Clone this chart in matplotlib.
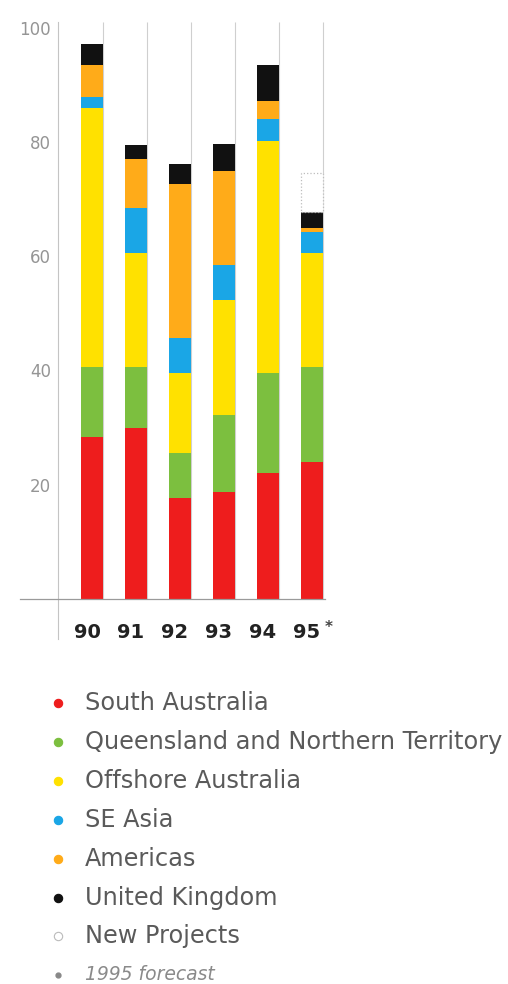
import matplotlib.pyplot as plt
from matplotlib.lines import Line2D
from matplotlib.transforms import ScaledTranslation
import numpy as np

# -----------------------------
# Data
# -----------------------------
years = ["90", "91", "92", "93", "94", "95"]
regions = ["South Australia", "Queensland and Northern Territory",
           "Offshore Australia", "SE Asia", "Americas", "United Kingdom",
           "New Projects"]
south_australia = [28.3, 29.9, 17.7, 18.7, 22.0, 24.0]
queensland_nt = [12.3, 10.7, 7.8, 13.5, 17.5, 16.6]
offshore_australia = [45.4, 19.9, 14.0, 20.1, 40.7, 19.9]
se_asia = [1.8, 7.9, 6.1, 6.1, 3.8, 3.7]
americas = [5.6, 8.7, 27.1, 16.6, 3.2, 0.7]
united_kingdom = [3.8, 2.3, 3.5, 4.7, 6.2, 2.8]
new_projects = [0, 0, 0, 0, 0, 6.8]
y_ticks = [20, 40, 60, 80, 100]

colors = ["#ee1d1d", "#7cbf3f", "#ffe100", "#1aa6e6", "#ffab19", "#111111",
          "#ffffff"]

W, H = 508, 984


def fy(px):
    return 1 - px / H


def fx(px):
    return px / W


def main():
    fig = plt.figure(figsize=(W / 100, H / 100), dpi=100)
    ax = fig.add_axes([fx(58), fy(599), fx(330) - fx(58), fy(22) - fy(599)])

    series = [south_australia, queensland_nt, offshore_australia, se_asia,
              americas, united_kingdom, new_projects]
    x = np.arange(len(years))
    width = 0.48
    bottom = np.zeros(len(years))
    for vals, col in zip(series, colors):
        vals = np.array(vals)
        keep = vals > 0
        is_new = col == "#ffffff"
        ax.bar(x[keep], vals[keep], width, bottom=bottom[keep], color=col,
               zorder=2,
               edgecolor="#bdbdbd" if is_new else "none",
               linewidth=0.9 if is_new else 0,
               linestyle=":" if is_new else "-")
        bottom += vals

    # faint vertical rules at right edge of each bar
    ax.vlines(x + width / 2, 0, 101, color="#cfcfcf", lw=0.8, zorder=1)

    ax.set_xlim(-0.773, 5.41)
    ax.set_ylim(0, 101)
    for s in ax.spines.values():
        s.set_visible(False)

    # y axis line and baseline
    ax.plot([0, 0], [-0.07, 1], transform=ax.transAxes, color="#c4c4c4",
            lw=0.8, clip_on=False)
    ax.axhline(0, xmin=-0.14, xmax=0.98, color="#9a9a9a", lw=0.9,
               clip_on=False, zorder=3)

    ax.set_yticks(y_ticks)
    ax.set_yticklabels([str(t) for t in y_ticks], color="#959595",
                       fontsize=12)
    ax.tick_params(axis="y", length=0, pad=5)

    ax.set_xticks(x)
    ax.set_xticklabels(years, fontsize=14, fontweight="bold",
                       color="#222222")
    ax.tick_params(axis="x", length=0, pad=17)
    shift = ScaledTranslation(-5 / 100, 0, fig.dpi_scale_trans)
    for lab in ax.get_xticklabels():
        lab.set_transform(lab.get_transform() + shift)
    # forecast marker on the last year
    ax.annotate("*", xy=(5, 0), xytext=(9.3, -15), textcoords="offset points",
                fontsize=11, fontweight="bold", color="#444444",
                ha="left", va="top")

    # legend
    rows = [703, 742, 781, 820, 859, 898, 936]
    for lab, col, py in zip(regions, colors, rows):
        is_new = col == "#ffffff"
        fig.add_artist(Line2D([fx(58)], [fy(py)], marker="o", markersize=6,
                              markerfacecolor=col,
                              markeredgecolor="#bbbbbb" if is_new else col,
                              markeredgewidth=0.8,
                              transform=fig.transFigure))
        fig.text(fx(85), fy(py), lab, fontsize=17.3, color="#5a5a5a",
                 va="center", ha="left")
    fig.add_artist(Line2D([fx(58)], [fy(975)], marker="o", markersize=3.5,
                          color="#888888", transform=fig.transFigure))
    fig.text(fx(85), fy(975), "1995 forecast", fontsize=13.5, color="#8a8a8a",
             va="center", ha="left", style="italic")

    fig.savefig("out.png", dpi=100, facecolor="white")


if __name__ == "__main__":
    main()
